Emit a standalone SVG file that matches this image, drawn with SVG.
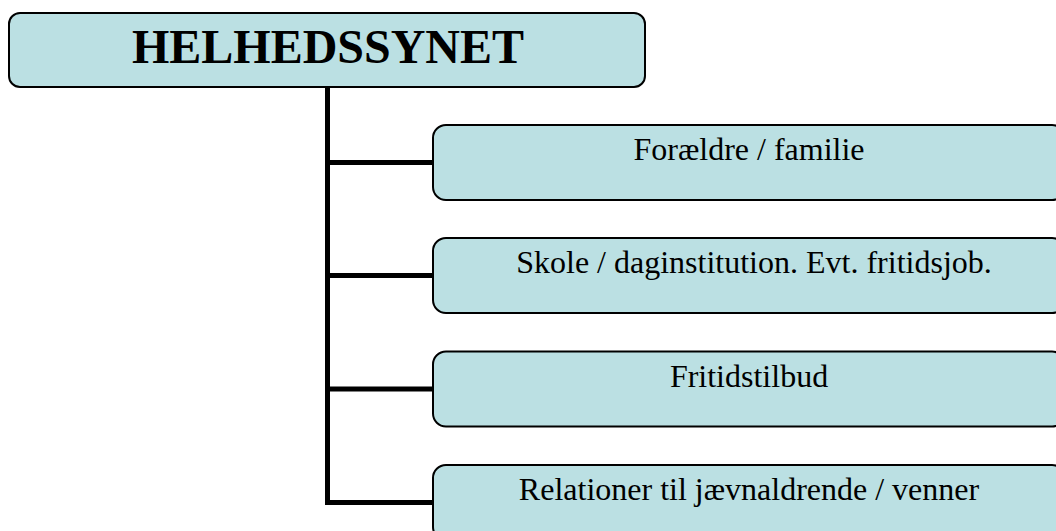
<svg xmlns="http://www.w3.org/2000/svg" width="1056" height="531" viewBox="0 0 1056 531">
<style>
.box{fill:#bbe0e3;stroke:#000;stroke-width:2}
.lbl{font-family:"Liberation Serif","Times New Roman",serif;font-size:32px;fill:#000;text-anchor:middle}
.title{font-family:"Liberation Serif","Times New Roman",serif;font-size:48px;font-weight:bold;fill:#000;text-anchor:middle}
.conn{fill:none;stroke:#000;stroke-width:5}
</style>
<rect width="1056" height="531" fill="#fff"/>
<g id="connectors">
<path class="conn" d="M327.5,87 V502.5 H433"/>
<path class="conn" d="M327.5,162.5 H433"/>
<path class="conn" d="M327.5,275.5 H433"/>
<path class="conn" d="M327.5,389 H433"/>
</g>
<g id="root">
<rect class="box" x="9" y="13" width="636" height="74" rx="11"/>
<text class="title" x="328" y="63">HELHEDSSYNET</text>
</g>
<g id="n1">
<rect class="box" x="433" y="125" width="632" height="75" rx="13"/>
<text class="lbl" x="749" y="160">Forældre / familie</text>
</g>
<g id="n2">
<rect class="box" x="433" y="238" width="632" height="75" rx="13"/>
<text class="lbl" x="754" y="273">Skole / daginstitution. Evt. fritidsjob.</text>
</g>
<g id="n3">
<rect class="box" x="433" y="351.5" width="632" height="75" rx="13"/>
<text class="lbl" x="749" y="387">Fritidstilbud</text>
</g>
<g id="n4">
<rect class="box" x="433" y="465" width="632" height="75" rx="13"/>
<text class="lbl" x="749" y="500">Relationer til jævnaldrende / venner</text>
</g>
</svg>
